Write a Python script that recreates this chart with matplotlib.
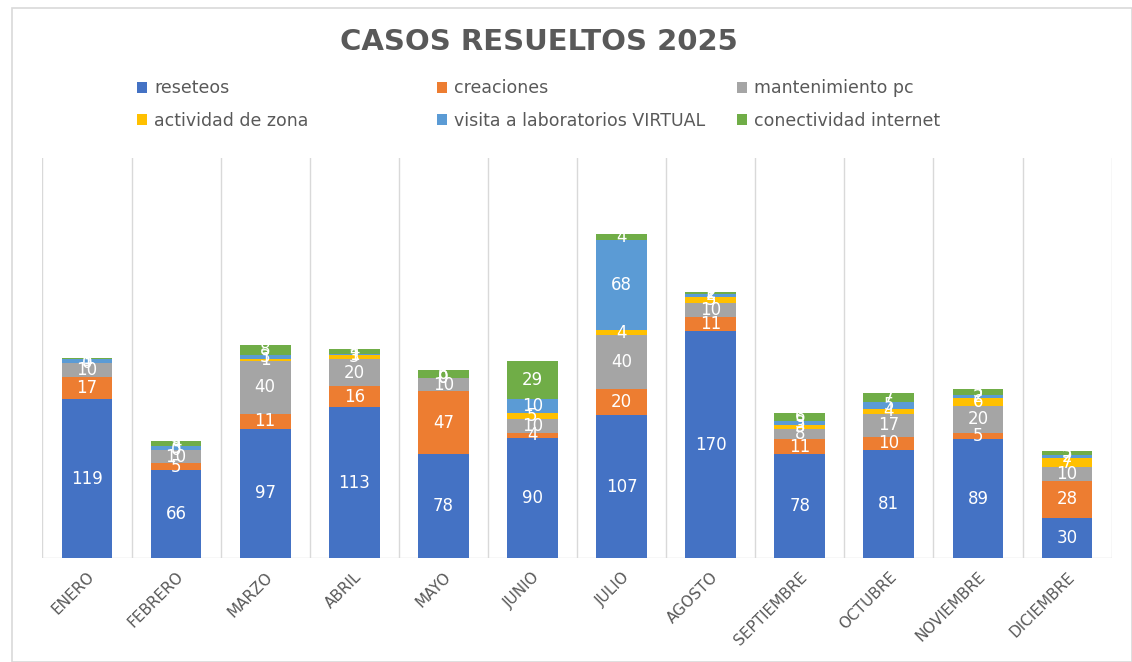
import matplotlib.pyplot as plt
import numpy as np
from matplotlib.patches import Rectangle

# Datos
meses = ['ENERO', 'FEBRERO', 'MARZO', 'ABRIL', 'MAYO', 'JUNIO', 'JULIO',
         'AGOSTO', 'SEPTIEMBRE', 'OCTUBRE', 'NOVIEMBRE', 'DICIEMBRE']
reseteos = [119, 66, 97, 113, 78, 90, 107, 170, 78, 81, 89, 30]
creaciones = [17, 5, 11, 16, 47, 4, 20, 11, 11, 10, 5, 28]
mantenimiento = [10, 10, 40, 20, 10, 10, 40, 10, 8, 17, 20, 10]
actividad = [0, 0, 1, 3, 0, 5, 4, 5, 3, 4, 6, 7]
visita = [3, 3, 3, 1, 0, 10, 68, 2, 3, 5, 2, 2]
conectividad = [1, 4, 8, 4, 6, 29, 4, 2, 6, 7, 5, 3]

series = [
    ('reseteos', reseteos, '#4472C4'),
    ('creaciones', creaciones, '#ED7D31'),
    ('mantenimiento pc', mantenimiento, '#A5A5A5'),
    ('actividad de zona', actividad, '#FFC000'),
    ('visita a laboratorios VIRTUAL', visita, '#5B9BD5'),
    ('conectividad internet', conectividad, '#70AD47'),
]

fig = plt.figure(figsize=(11.32, 6.62), dpi=100)
fig.patches.append(Rectangle((0.011, 0.0), 0.989, 0.988, transform=fig.transFigure,
                             fill=False, edgecolor='#D9D9D9', linewidth=1.2))

ax = fig.add_axes([0.0375, 0.157, 0.9445, 0.604])
x = np.arange(len(meses))
base = np.zeros(len(meses))
handles = []
for nombre, valores, color in series:
    v = np.array(valores, dtype=float)
    b = ax.bar(x, v, 0.57, bottom=base, color=color, label=nombre, zorder=3)
    handles.append(b)
    for xi, vi, bi in zip(x, v, base):
        ax.text(xi, bi + vi / 2, str(int(vi)), ha='center', va='center',
                color='white', fontsize=12, zorder=4)
    base += v

ax.set_xlim(-0.5, len(meses) - 0.5)
ax.set_ylim(0, 300)
for xb in np.arange(-0.5, len(meses), 1.0):
    ax.axvline(xb, color='#D9D9D9', linewidth=1, zorder=1)
ax.axhline(0, color='#D9D9D9', linewidth=1, zorder=2)
for s in ax.spines.values():
    s.set_visible(False)
ax.set_yticks([])
ax.set_xticks(x)
ax.set_xticklabels(meses, rotation=45, ha='right', rotation_mode='anchor',
                   fontsize=11, color='#595959')
ax.tick_params(axis='x', length=0, pad=8)

fig.text(0.476, 0.937, 'CASOS RESUELTOS 2025', ha='center', va='center',
         fontsize=21, fontweight='bold', color='#595959')

# leyenda en 3 columnas, orden por filas como en Excel
xs_leyenda = [0.107, 0.372, 0.637]
for col in range(3):
    hs = [handles[col], handles[col + 3]]
    leg = fig.legend(handles=hs, loc='upper left', bbox_to_anchor=(xs_leyenda[col], 0.904),
                     ncol=1, frameon=False, fontsize=12.5, handlelength=0.6,
                     handleheight=0.6, handletextpad=0.4, labelspacing=0.85)
    for t in leg.get_texts():
        t.set_color('#595959')

fig.savefig('out.png', dpi=100)
